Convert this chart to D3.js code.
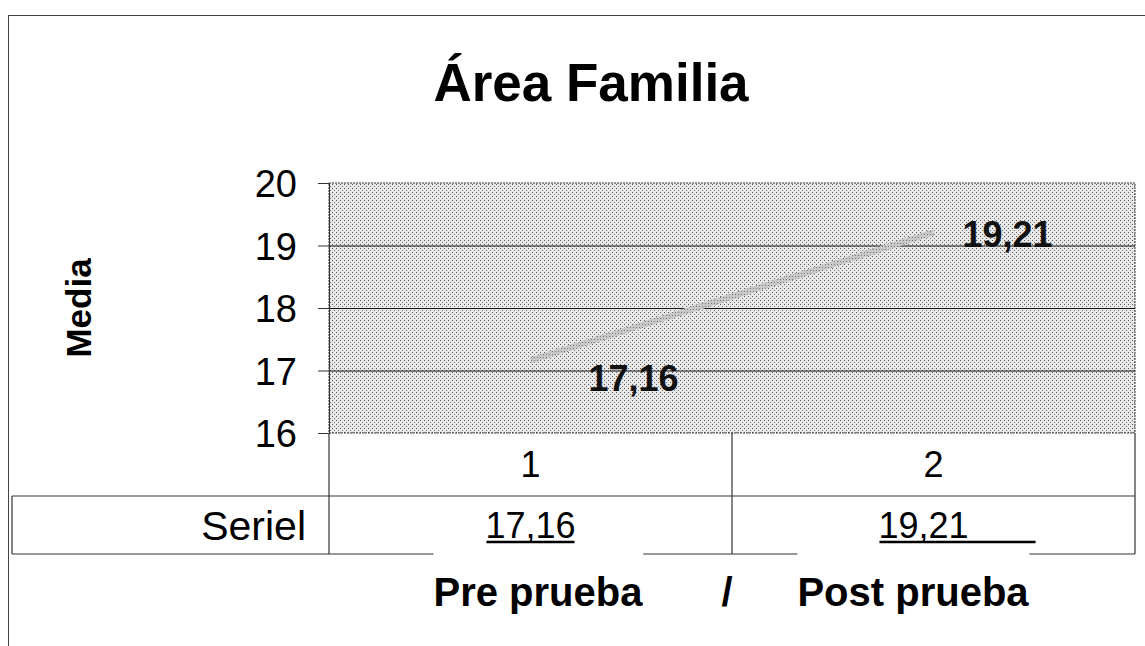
<!DOCTYPE html>
<html>
<head>
<meta charset="utf-8">
<script src="https://cdn.jsdelivr.net/npm/d3@7"></script>
<style>
	body { margin: 0; background: #fff; }
	svg { display: block; font-family: 'Liberation Sans', Arial, sans-serif; }
</style>
</head>
<body>
<script>
const categories = ['1', '2']
const values = [17.16, 19.21]
const valueLabels = ['17,16', '19,21']
const yTicks = [16, 17, 18, 19, 20]
const seriesName = 'Seriel'
const title = 'Área Familia'
const yTitle = 'Media'
const footer = ['Pre prueba', '/', 'Post prueba']

const W = 1145
const H = 646
const plot = { left: 329, right: 1135, top: 183, bottom: 433 }
const rowH = [63, 58]

const svg = d3.select('body').append('svg')
	.attr('width', W)
	.attr('height', H)

// dotted fill like the scanned chart
const defs = svg.append('defs')
const pat = defs.append('pattern')
	.attr('id', 'dots')
	.attr('width', 4)
	.attr('height', 4)
	.attr('patternUnits', 'userSpaceOnUse')
pat.append('rect').attr('width', 4).attr('height', 4).attr('fill', '#e8e8e8')
pat.append('rect').attr('x', 0).attr('y', 0).attr('width', 1).attr('height', 1).attr('fill', '#555')
pat.append('rect').attr('x', 2).attr('y', 2).attr('width', 1).attr('height', 1).attr('fill', '#777')

const linePat = defs.append('pattern')
	.attr('id', 'lineDots')
	.attr('width', 3)
	.attr('height', 3)
	.attr('patternUnits', 'userSpaceOnUse')
linePat.append('rect').attr('width', 3).attr('height', 3).attr('fill', '#c8c8c8')
linePat.append('rect').attr('width', 1).attr('height', 1).attr('fill', '#7a7a7a')

// outer frame
svg.append('rect')
	.attr('x', 8.5).attr('y', 15.5)
	.attr('width', W).attr('height', H)
	.attr('fill', 'none')
	.attr('stroke', '#444')
	.attr('stroke-width', 1)

const scaleX = d3.scaleBand()
	.domain(categories)
	.range([plot.left, plot.right])

const scaleY = d3.scaleLinear()
	.domain([16, 20])
	.range([plot.bottom, plot.top])

// plot background
svg.append('rect')
	.attr('x', plot.left)
	.attr('y', plot.top)
	.attr('width', plot.right - plot.left)
	.attr('height', plot.bottom - plot.top)
	.attr('fill', 'url(#dots)')
	.attr('stroke', '#333')
	.attr('stroke-dasharray', '2,1')

// gridlines
svg.append('g')
	.selectAll('line')
	.data(yTicks.filter(d => d > 16 && d < 20))
	.enter().append('line')
	.attr('x1', plot.left)
	.attr('x2', plot.right)
	.attr('y1', d => scaleY(d) + 0.5)
	.attr('y2', d => scaleY(d) + 0.5)
	.attr('stroke', '#111')
	.attr('stroke-width', 1.2)

// y axis
const yAxis = svg.append('g')
	.attr('transform', `translate(${plot.left},0)`)
	.call(d3.axisLeft(scaleY).tickValues(yTicks).tickSize(11).tickPadding(21).tickFormat(d3.format('d')))
yAxis.attr('font-size', 38).attr('font-family', "'Liberation Sans', Arial, sans-serif")
yAxis.select('.domain').attr('stroke', '#333')
yAxis.selectAll('.tick line').attr('stroke', '#333')
yAxis.selectAll('text')
	.attr('fill', '#000')
	.attr('dy', '0.36em')

// series line
const pts = values.map((v, i) => [scaleX(categories[i]) + scaleX.bandwidth() / 2, scaleY(v)])
svg.append('path')
	.attr('d', d3.line()(pts))
	.attr('fill', 'none')
	.attr('stroke', 'url(#lineDots)')
	.attr('stroke-width', 6)

// data labels
const labelOff = [[103, 18], [74, 2]]
svg.append('g')
	.selectAll('text')
	.data(values)
	.enter().append('text')
	.attr('x', (d, i) => pts[i][0] + labelOff[i][0])
	.attr('y', (d, i) => pts[i][1] + labelOff[i][1])
	.attr('text-anchor', 'middle')
	.attr('dy', '0.35em')
	.style('font-size', '36px')
	.attr('font-weight', 'bold')
	.attr('fill', '#111')
	.text((d, i) => valueLabels[i])

// data table
const table = svg.append('g').attr('stroke', '#333').attr('stroke-width', 1.2)
const row1 = plot.bottom + rowH[0]
const row2 = row1 + rowH[1]
table.append('line').attr('x1', 12).attr('x2', plot.right).attr('y1', row1).attr('y2', row1)
table.append('line').attr('x1', 12).attr('x2', plot.right).attr('y1', row2).attr('y2', row2)
table.append('line').attr('x1', 12).attr('x2', 12).attr('y1', row1).attr('y2', row2)
const edges = [plot.left].concat(categories.map(c => scaleX(c) + scaleX.bandwidth()))
table.selectAll('.vline')
	.data(edges)
	.enter().append('line')
	.attr('class', 'vline')
	.attr('x1', d => d).attr('x2', d => d)
	.attr('y1', plot.bottom).attr('y2', row2)

svg.append('g')
	.selectAll('text')
	.data(categories)
	.enter().append('text')
	.attr('x', d => scaleX(d) + scaleX.bandwidth() / 2)
	.attr('y', plot.bottom + rowH[0] / 2)
	.attr('dy', '0.36em')
	.attr('text-anchor', 'middle')
	.style('font-size', '36px')
	.text(d => d)

svg.append('text')
	.attr('x', plot.left - 23)
	.attr('y', row1 + rowH[1] / 2)
	.attr('dy', '0.36em')
	.attr('text-anchor', 'end')
	.style('font-size', '41px')
	.text(seriesName)

// table values, underlined; the second underline runs on past the number
const underlineExtra = [0, 68]
const shiftX = [0, -10]
const cells = svg.append('g')
	.selectAll('g')
	.data(valueLabels)
	.enter().append('g')
cells.append('text')
	.attr('x', (d, i) => scaleX(categories[i]) + scaleX.bandwidth() / 2 + shiftX[i])
	.attr('y', row1 + rowH[1] / 2)
	.attr('dy', '0.36em')
	.attr('text-anchor', 'middle')
	.style('font-size', '36px')
	.text(d => d)
cells.append('line')
	.each(function (d, i) {
		const bb = this.parentNode.querySelector('text').getBBox()
		const y = row1 + rowH[1] / 2 + 17
		d3.select(this)
			.attr('x1', bb.x + 1)
			.attr('x2', bb.x + bb.width - 1 + underlineExtra[i])
			.attr('y1', y).attr('y2', y)
			.attr('stroke', '#000')
			.attr('stroke-width', 2.5)
	})

// titles
svg.append('text')
	.attr('x', 591)
	.attr('y', 82)
	.attr('dy', '0.35em')
	.attr('text-anchor', 'middle')
	.style('font-size', '53px')
	.attr('font-weight', 'bold')
	.text(title)

svg.append('text')
	.attr('transform', `translate(79, ${(plot.top + plot.bottom) / 2}) rotate(-90)`)
	.attr('dy', '0.35em')
	.attr('text-anchor', 'middle')
	.style('font-size', '35px')
	.attr('font-weight', 'bold')
	.text(yTitle)

// footer labels sit on white boxes that cut the table's bottom line
const footX = [538, 727, 913]
const foot = svg.append('g')
	.selectAll('g')
	.data(footer)
	.enter().append('g')
foot.append('text')
	.attr('x', (d, i) => footX[i])
	.attr('y', 592)
	.attr('dy', '0.35em')
	.attr('text-anchor', 'middle')
	.style('font-size', '40px')
	.attr('font-weight', 'bold')
	.text(d => d)
foot.filter(d => d !== '/')
	.insert('rect', 'text')
	.each(function () {
		const bb = this.parentNode.querySelector('text').getBBox()
		d3.select(this)
			.attr('x', bb.x)
			.attr('y', row2 - 2)
			.attr('width', bb.width)
			.attr('height', bb.y + bb.height - row2 + 2)
			.attr('fill', '#fff')
	})
</script>
</body>
</html>
